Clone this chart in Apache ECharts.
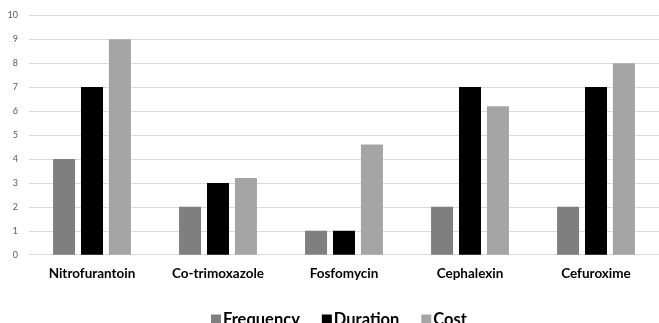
<!DOCTYPE html>
<html>
<head>
<meta charset="utf-8">
<script src="https://cdn.jsdelivr.net/npm/echarts@6/dist/echarts.min.js"></script>
<style>html,body{margin:0;padding:0;background:#fff;}#c{width:659px;height:323px;}</style>
</head>
<body>
<div id="c"></div>
<script>
var categories = ['Nitrofurantoin', 'Co-trimoxazole', 'Fosfomycin', 'Cephalexin', 'Cefuroxime'];
var frequency = [4, 2, 1, 2, 2];
var duration = [7, 3, 1, 7, 7];
var cost = [9, 3.2, 4.6, 6.2, 8];
var yTicks = [0, 10, 1];

var chart = echarts.init(document.getElementById('c'), null, {renderer: 'canvas'});
var font = 'Lato, "Open Sans", sans-serif';
chart.setOption({
  animation: false,
  textStyle: {fontFamily: font},
  grid: {left: 29, top: 15.3, width: 636, height: 239.4, containLabel: false},
  legend: {
    left: 206, top: 306, itemWidth: 10, itemHeight: 10, itemGap: 22,
    icon: 'rect',
    textStyle: {fontFamily: font, fontWeight: 'bold', fontSize: 16.5, color: '#000', padding: [0, 0, 0, -3]},
    data: ['Frequency', 'Duration', 'Cost']
  },
  xAxis: {
    type: 'category', data: categories,
    axisLine: {show: true, lineStyle: {color: '#d9d9d9', width: 1}},
    axisTick: {show: false},
    axisLabel: {fontFamily: font, fontWeight: 'bold', fontSize: 13.5, color: '#000', margin: 12}
  },
  yAxis: {
    type: 'value', min: yTicks[0], max: yTicks[1], interval: yTicks[2],
    axisLine: {show: false}, axisTick: {show: false},
    axisLabel: {fontFamily: font, fontSize: 9, color: '#595959', margin: 11},
    splitLine: {lineStyle: {color: '#d9d9d9', width: 1}}
  },
  series: [
    {name: 'Frequency', type: 'bar', data: frequency, barWidth: 22, barGap: '27%', itemStyle: {color: '#7f7f7f'}},
    {name: 'Duration', type: 'bar', data: duration, barWidth: 22, barGap: '27%', itemStyle: {color: '#000000'}},
    {name: 'Cost', type: 'bar', data: cost, barWidth: 22, barGap: '27%', itemStyle: {color: '#a5a5a5'}}
  ]
});
</script>
</body>
</html>
